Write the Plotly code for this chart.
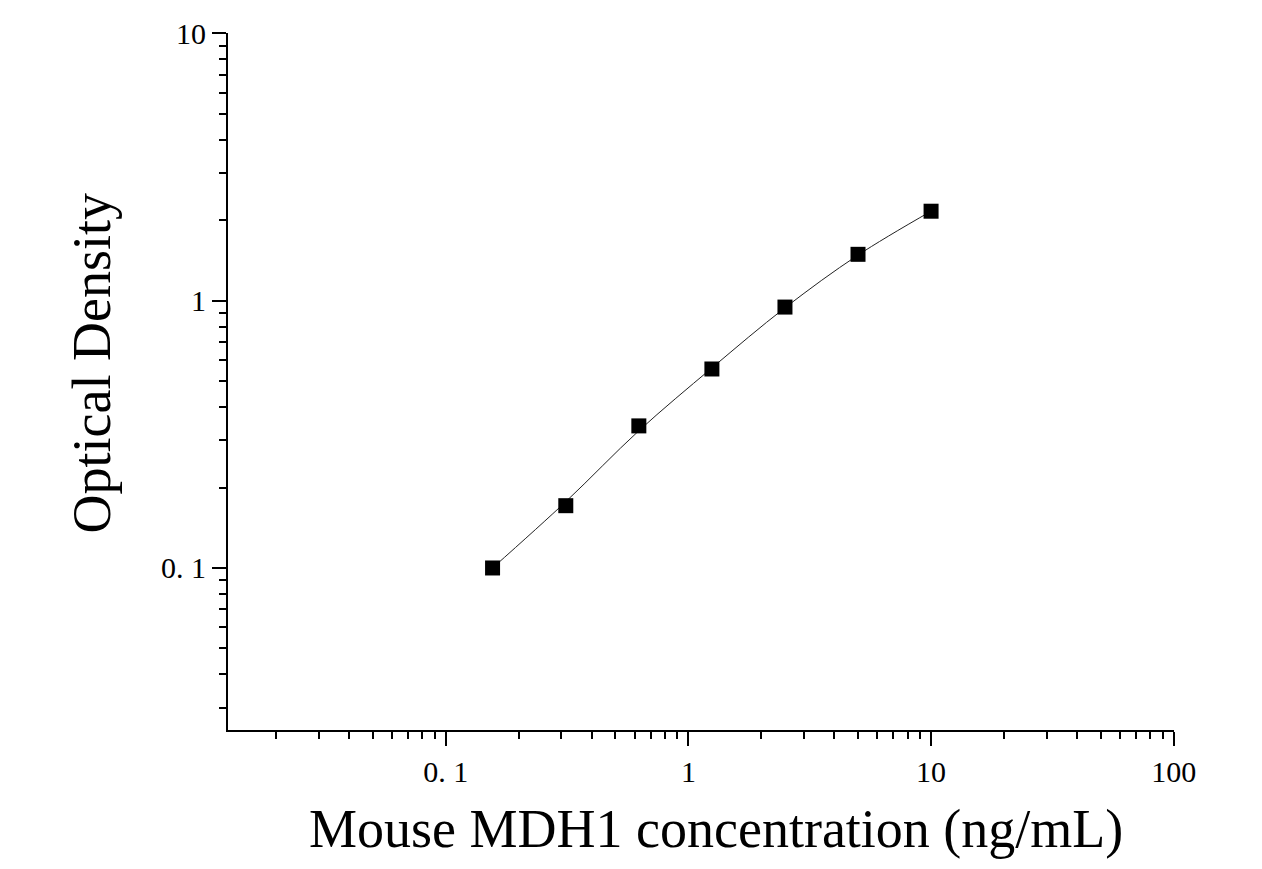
import plotly.graph_objects as go

# standard points
concentration = [0.156, 0.3125, 0.625, 1.25, 2.5, 5, 10]
optical_density = [0.100, 0.171, 0.340, 0.555, 0.946, 1.49, 2.16]

# fitted curve, read at the same concentrations (it misses some points slightly)
curve_od = [0.100, 0.177, 0.326, 0.560, 0.940, 1.48, 2.16]

x_tickvals = [0.1, 1, 10, 100]
x_ticktext = ["0. 1", "1", "10", "100"]
y_tickvals = [0.1, 1, 10]
y_ticktext = ["0. 1", "1", "10"]

FONT = "Liberation Serif, Times New Roman, serif"


def minor_ticks(first_decade, last_decade):
    vals = []
    for d in range(first_decade, last_decade + 1):
        vals += [k * 10 ** d for k in range(2, 10)]
    return vals


fig = go.Figure()

# fitted curve
fig.add_trace(go.Scatter(
    x=concentration, y=curve_od,
    mode="lines", line=dict(color="#222222", width=1, shape="spline", smoothing=1.0),
    showlegend=False, hoverinfo="skip",
))

# measured points
fig.add_trace(go.Scatter(
    x=concentration, y=optical_density,
    mode="markers", marker=dict(symbol="square", size=15, color="black"),
    showlegend=False,
))

axis_common = dict(
    type="log",
    automargin=False,
    showgrid=False,
    zeroline=False,
    showline=True,
    linecolor="black",
    linewidth=2,
    ticks="outside",
    ticklen=14,
    tickwidth=2,
    tickcolor="black",
    tickmode="array",
    tickfont=dict(family=FONT, size=30, color="black"),
)

fig.update_xaxes(
    **axis_common,
    range=[-1.897, 2.001],
    tickvals=x_tickvals,
    ticktext=x_ticktext,
    minor=dict(ticks="outside", ticklen=7, tickwidth=2, tickcolor="black",
               tickmode="array", tickvals=minor_ticks(-2, 1), showgrid=False),
)

fig.update_yaxes(
    **axis_common,
    range=[-1.606, 1.001],
    tickvals=y_tickvals,
    ticktext=y_ticktext,
    minor=dict(ticks="outside", ticklen=7, tickwidth=2, tickcolor="black",
               tickmode="array", tickvals=minor_ticks(-2, 0), showgrid=False),
)

# axis titles as annotations so they can sit off-centre like the original
fig.add_annotation(
    text="Mouse MDH1 concentration (ng/mL)",
    xref="paper", yref="paper", x=0.5, y=0,
    xanchor="center", yanchor="middle", xshift=15, yshift=-99,
    showarrow=False, font=dict(family=FONT, size=54, color="black"),
)
fig.add_annotation(
    text="Optical Density", textangle=-90,
    xref="paper", yref="paper", x=0, y=0.5,
    xanchor="center", yanchor="middle", xshift=-137, yshift=18,
    showarrow=False, font=dict(family=FONT, size=54, color="black"),
)

fig.update_layout(
    width=1262, height=869,
    margin=dict(l=220, r=96, t=25, b=147),
    plot_bgcolor="white",
    paper_bgcolor="white",
)

fig.write_html("out.html")
